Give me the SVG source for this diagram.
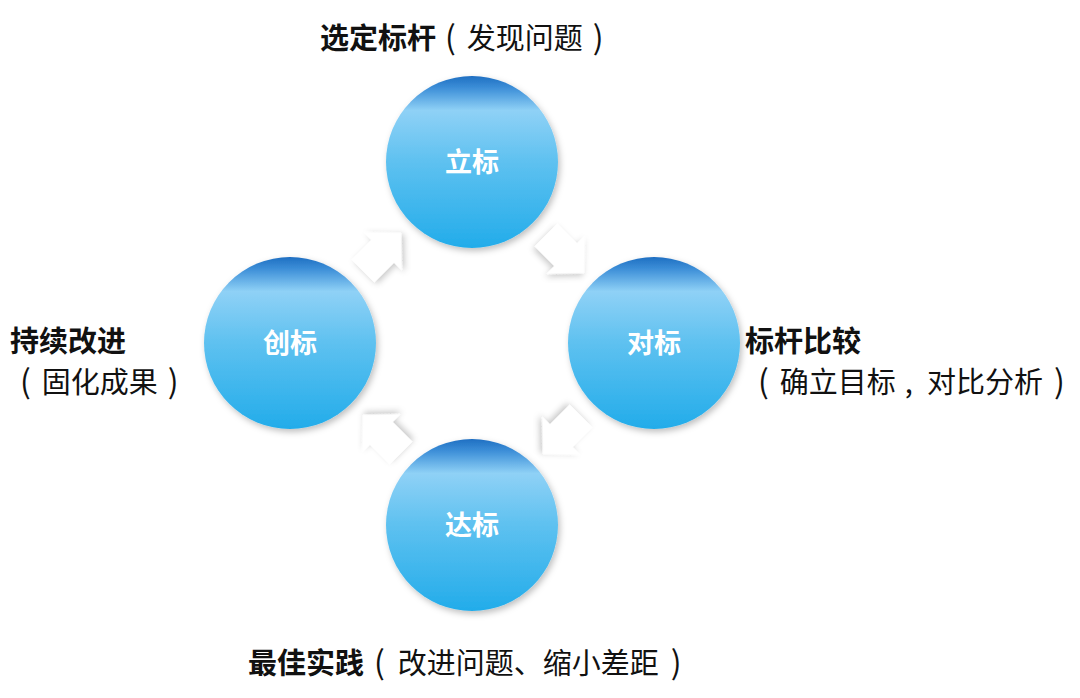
<svg xmlns="http://www.w3.org/2000/svg" width="1080" height="698" viewBox="0 0 1080 698">
<defs>
<linearGradient id="g" x1="0" y1="0" x2="0" y2="1">
<stop offset="0" stop-color="#1f6fc2"/>
<stop offset="0.07" stop-color="#3d8fd8"/>
<stop offset="0.2" stop-color="#8fd1f6"/>
<stop offset="0.5" stop-color="#5ec1f0"/>
<stop offset="1" stop-color="#22acea"/>
</linearGradient>
<filter id="sh" x="-20%" y="-20%" width="140%" height="140%">
<feDropShadow dx="2" dy="3" stdDeviation="3" flood-color="#000" flood-opacity="0.25"/>
</filter>
<filter id="ash" x="-40%" y="-40%" width="180%" height="180%">
<feDropShadow dx="1" dy="3" stdDeviation="3" flood-color="#000" flood-opacity="0.22"/>
</filter>
<path id="arr" d="M-27,-16 L1,-16 L1,-27 L27,0 L1,27 L1,16 L-27,16 Z"/>
</defs>
<style>
.c{fill:url(#g);filter:url(#sh)}
.cl{font-family:"Noto Sans CJK SC","Microsoft YaHei",sans-serif;font-weight:700;font-size:27px;fill:#fff;text-anchor:middle}
.t{font-family:"Noto Sans CJK SC","Microsoft YaHei",sans-serif;font-size:29px;fill:#111}
.b{font-weight:700}
.p{font-size:32px}
.a{fill:#fff;filter:url(#ash)}
</style>
<rect width="1080" height="698" fill="#fff"/>
<g id="connectors">
<use href="#arr" class="a" transform="translate(382,252) rotate(-45)"/>
<use href="#arr" class="a" transform="translate(565,254) rotate(45)"/>
<use href="#arr" class="a" transform="translate(562,435) rotate(135)"/>
<use href="#arr" class="a" transform="translate(382,434) rotate(-135)"/>
</g>
<g id="node-top">
<circle class="c" cx="472" cy="162" r="86"/>
<text class="cl" x="472" y="172">立标</text>
</g>
<g id="node-right">
<circle class="c" cx="654" cy="343" r="86"/>
<text class="cl" x="654" y="353">对标</text>
</g>
<g id="node-bottom">
<circle class="c" cx="472" cy="525" r="86"/>
<text class="cl" x="472" y="535">达标</text>
</g>
<g id="node-left">
<circle class="c" cx="290" cy="343" r="86"/>
<text class="cl" x="290" y="353">创标</text>
</g>
<g id="label-top">
<text class="t" x="320" y="49"><tspan class="b">选定标杆</tspan><tspan class="p" dx="9">(</tspan><tspan dx="11">发现问题</tspan><tspan class="p" dx="10">)</tspan></text>
</g>
<g id="label-left">
<text class="t b" x="10" y="352">持续改进</text>
<text class="t" x="20" y="393"><tspan class="p">(</tspan><tspan dx="11">固化成果</tspan><tspan class="p" dx="10">)</tspan></text>
</g>
<g id="label-right">
<text class="t b" x="745" y="352">标杆比较</text>
<text class="t" x="758" y="393"><tspan class="p">(</tspan><tspan dx="11">确立目标</tspan><tspan dx="9">,</tspan><tspan dx="14">对比分析</tspan><tspan class="p" dx="11">)</tspan></text>
</g>
<g id="label-bottom">
<text class="t" x="248" y="674"><tspan class="b">最佳实践</tspan><tspan class="p" dx="10">(</tspan><tspan dx="13">改进问题、缩小差距</tspan><tspan class="p" dx="12">)</tspan></text>
</g>
</svg>
